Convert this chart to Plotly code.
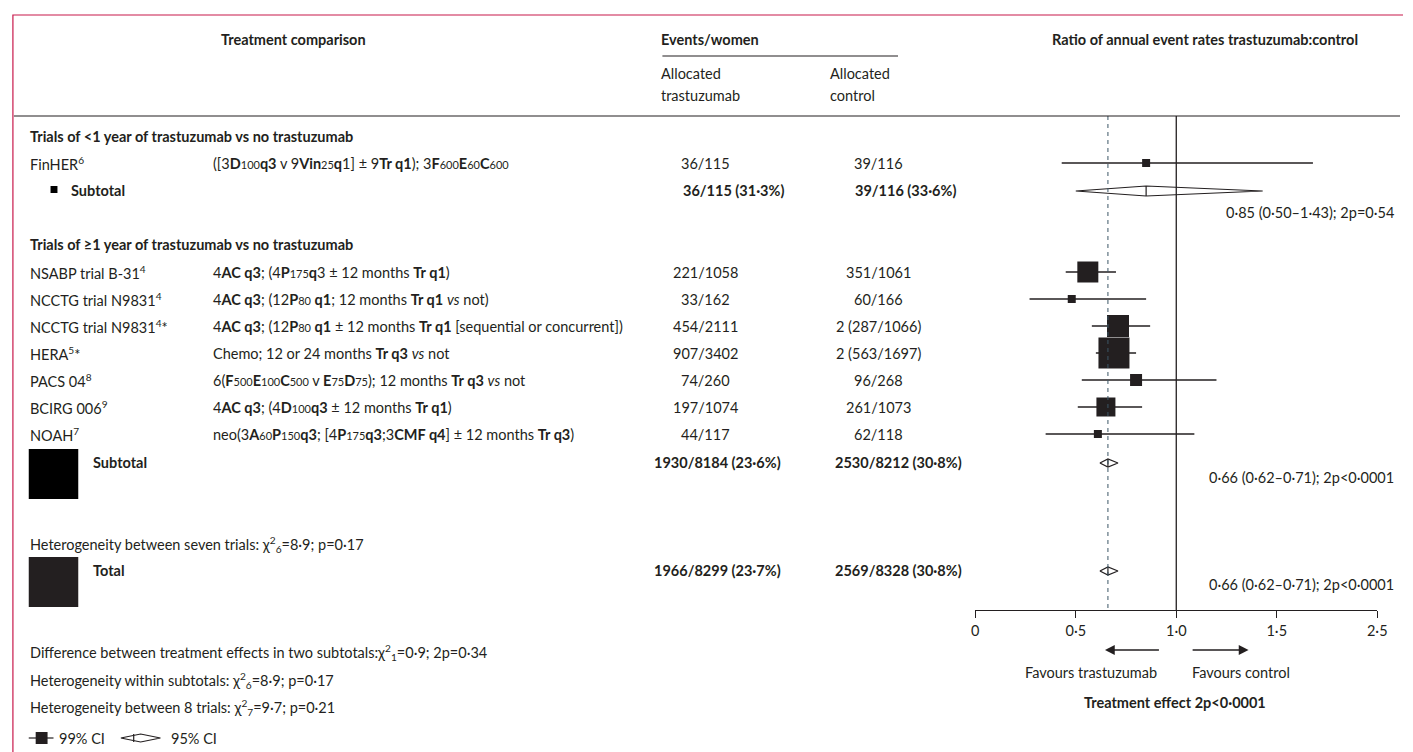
import plotly.graph_objects as go

W, H = 1413, 752
INK = "#231f20"
FONT = "Lato"
FS = 14.5

# trial data
trials = ["FinHER<sup>6</sup>", "NSABP trial B-31<sup>4</sup>", "NCCTG trial N9831<sup>4</sup>",
          "NCCTG trial N9831<sup>4</sup>*", "HERA<sup>5</sup>*", "PACS 04<sup>8</sup>",
          "BCIRG 006<sup>9</sup>", "NOAH<sup>7</sup>"]

def sm(t):
    return f"<span style='font-size:11px'>{t}</span>"

regimens = [
    f"([3<b>D</b>{sm('100')}<b>q3</b> v 9<b>Vin</b>{sm('25')}<b>q</b>1] ± 9<b>Tr q1</b>); 3<b>F</b>{sm('600')}<b>E</b>{sm('60')}<b>C</b>{sm('600')}",
    f"4<b>AC q3</b>; (4<b>P</b>{sm('175')}<b>q</b>3 ± 12 months <b>Tr q1</b>)",
    f"4<b>AC q3</b>; (12<b>P</b>{sm('80')} <b>q1</b>; 12 months <b>Tr q1</b> <i>vs</i> not)",
    f"4<b>AC q3</b>; (12<b>P</b>{sm('80')} <b>q1</b> ± 12 months <b>Tr q1</b> [sequential or concurrent])",
    "Chemo; 12 or 24 months <b>Tr q3</b> <i>vs</i> not",
    f"6(<b>F</b>{sm('500')}<b>E</b>{sm('100')}<b>C</b>{sm('500')} v <b>E</b>{sm('75')}<b>D</b>{sm('75')}); 12 months <b>Tr q3</b> <i>vs</i> not",
    f"4<b>AC q3</b>; (4<b>D</b>{sm('100')}<b>q3</b> ± 12 months <b>Tr q1</b>)",
    f"neo(3<b>A</b>{sm('60')}<b>P</b>{sm('150')}<b>q3</b>; [4<b>P</b>{sm('175')}<b>q3</b>;3<b>CMF q4</b>] ± 12 months <b>Tr q3</b>)",
]
events_tr = ["36/115", "221/1058", "33/162", "454/2111", "907/3402", "74/260", "197/1074", "44/117"]
events_ct = ["39/116", "351/1061", "60/166", "2 (287/1066)", "2 (563/1697)", "96/268", "261/1073", "62/118"]
ratio = [0.85, 0.56, 0.48, 0.71, 0.69, 0.80, 0.65, 0.61]
ci_lo = [0.43, 0.45, 0.27, 0.58, 0.60, 0.53, 0.51, 0.35]
ci_hi = [1.68, 0.70, 0.85, 0.87, 0.80, 1.20, 0.83, 1.09]
box_px = [8, 21, 8, 22, 31, 12, 19, 8]

# subtotals / total
sum_labels = ["Subtotal", "Subtotal", "Total"]
sum_tr = ["36/115 (31·3%)", "1930/8184 (23·6%)", "1966/8299 (23·7%)"]
sum_ct = ["39/116 (33·6%)", "2530/8212 (30·8%)", "2569/8328 (30·8%)"]
sum_est = [0.85, 0.66, 0.66]
sum_lo = [0.50, 0.62, 0.62]
sum_hi = [1.43, 0.71, 0.71]
sum_text = ["0·85 (0·50–1·43); 2p=0·54", "0·66 (0·62–0·71); 2p<0·0001", "0·66 (0·62–0·71); 2p<0·0001"]
overall_ratio = 0.66

tick_vals = [0, 0.5, 1.0, 1.5, 2.0]
tick_text = ["0", "0·5", "1·0", "1·5", "2·5"]

# layout rows (pixel y)
trial_y = [163, 272, 299, 326, 353, 380, 407, 434]
sum_y = [191, 463, 571]
AX_Y = 610
TOP_Y = 116

fig = go.Figure()

# CI lines
lx, ly = [], []
for lo, hi, y in zip(ci_lo, ci_hi, trial_y):
    lx += [lo, hi, None]
    ly += [y, y, None]
fig.add_trace(go.Scatter(x=lx, y=ly, mode="lines", line=dict(color=INK, width=1.3),
                         hoverinfo="skip", showlegend=False))
fig.add_trace(go.Scatter(x=ratio, y=trial_y, mode="markers", opacity=1,
                         marker=dict(symbol="square", size=box_px, color=INK, opacity=1, line=dict(width=0)),
                         hoverinfo="skip", showlegend=False))

# diamonds
halfs = [5, 4, 4]
for est, lo, hi, y, h in zip(sum_est, sum_lo, sum_hi, sum_y, halfs):
    fig.add_trace(go.Scatter(x=[lo, est, hi, est, lo], y=[y, y - h, y, y + h, y],
                             mode="lines", fill="toself", fillcolor="white",
                             line=dict(color=INK, width=1.2), hoverinfo="skip", showlegend=False))
    fig.add_trace(go.Scatter(x=[est, est], y=[y - h, y + h], mode="lines",
                             line=dict(color=INK, width=1.2), hoverinfo="skip", showlegend=False))

# reference lines
fig.add_shape(type="line", xref="x", yref="y", x0=1, x1=1, y0=TOP_Y, y1=AX_Y,
              line=dict(color=INK, width=1.3))
fig.add_shape(type="line", xref="x", yref="y", x0=overall_ratio, x1=overall_ratio, y0=TOP_Y, y1=AX_Y,
              line=dict(color="#3b5566", width=1, dash="4px,4px"))


def txt(x, y, s, anchor="left", size=FS, bold=False, color=INK):
    fig.add_annotation(x=x, y=y, xref="x2", yref="y", text=f"<b>{s}</b>" if bold else s,
                       showarrow=False, xanchor=anchor, yanchor="middle", borderpad=0,
                       font=dict(family=FONT, size=size, color=color))


def box(x0, y0, x1, y1, color):
    fig.add_shape(type="rect", xref="x2", yref="y", x0=x0, x1=x1, y0=y0, y1=y1,
                  fillcolor=color, line=dict(width=0))


# header
txt(292, 39, "Treatment comparison", "center", bold=True)
txt(663, 39, "Events/women", bold=True)
txt(1213, 39, "Ratio of annual event rates trastuzumab:control", "center", bold=True)
txt(663, 73, "Allocated")
txt(663, 95, "trastuzumab")
txt(833, 73, "Allocated")
txt(833, 95, "control")
fig.add_shape(type="line", xref="x2", yref="y", x0=665, x1=903, y0=56, y1=56,
              line=dict(color=INK, width=1.2))
fig.add_shape(type="line", xref="x2", yref="y", x0=10, x1=1410, y0=TOP_Y, y1=TOP_Y,
              line=dict(color=INK, width=1.2))
fig.add_shape(type="rect", xref="x2", yref="y", x0=9, x1=1430, y0=15, y1=800,
              line=dict(color="#c8194b", width=1.2))

txt(25, 136, "Trials of <1 year of trastuzumab vs no trastuzumab", bold=True)
txt(25, 244, "Trials of ≥1 year of trastuzumab vs no trastuzumab", bold=True)

for name, reg, et, ec, y in zip(trials, regimens, events_tr, events_ct, trial_y):
    txt(25, y, name)
    txt(210, y, reg)
    txt(709, y, et, "center")
    txt(883, y, ec, "center")

# subtotal rows
sum_lbl_y = [190, 462, 570]
sum_x_tr = [685, 655, 655]
sum_x_ct = [858, 838, 838]
sum_lbl_x = [67, 89, 89]
stat_y = [212, 477, 584]
for lab, st, sc, s, y, xt, xc, xl, sy in zip(sum_labels, sum_tr, sum_ct, sum_text, sum_lbl_y,
                                             sum_x_tr, sum_x_ct, sum_lbl_x, stat_y):
    txt(xl, y, lab, bold=True)
    txt(xt, y, st, bold=True)
    txt(xc, y, sc, bold=True)
    txt(1405, sy, s, "right")

# subtotal squares
box(47, 186, 54, 193, "#000000")
box(25, 449, 75, 499, "#000000")
box(25, 557, 75, 607, INK)

txt(25, 544, "Heterogeneity between seven trials: χ<sup>2</sup><sub>6</sub>=8·9; p=0·17")
txt(25, 652, "Difference between treatment effects in two subtotals:χ<sup>2</sup><sub>1</sub>=0·9; 2p=0·34")
txt(25, 680, "Heterogeneity within subtotals: χ<sup>2</sup><sub>6</sub>=8·9; p=0·17")
txt(25, 707, "Heterogeneity between 8 trials: χ<sup>2</sup><sub>7</sub>=9·7; p=0·21")

# legend
fig.add_trace(go.Scatter(x=[25, 50, None, 118, 138, 158, 138, 118, None, 131, 131],
                         y=[738, 738, None, 738, 734, 738, 742, 738, None, 734, 742],
                         xaxis="x2", mode="lines", line=dict(color=INK, width=1.2),
                         hoverinfo="skip", showlegend=False))
box(32, 732, 44, 744, INK)
txt(55, 738, "99% CI")
txt(168, 738, "95% CI")

# favours arrows
for tip, tail in [(1112, 1168), (1257, 1199)]:
    fig.add_annotation(x=tip, y=650, ax=tail, ay=650, xref="x2", yref="y", axref="x2", ayref="y",
                       showarrow=True, arrowhead=2, arrowsize=1.4, arrowwidth=1.4, arrowcolor=INK, text="")
txt(1098, 672, "Favours trastuzumab", "center")
txt(1199, 672, "Favours control")
txt(1183, 702, "Treatment effect 2p<0·0001", "center", bold=True)

fig.update_layout(
    width=W, height=H, margin=dict(l=0, r=0, t=0, b=0),
    paper_bgcolor="white", plot_bgcolor="rgba(0,0,0,0)", hovermode=False,
    xaxis=dict(domain=[981 / W, 1387 / W], range=[0, 2], anchor="free", position=1 - AX_Y / H,
               tickvals=tick_vals, ticktext=tick_text, ticks="outside", ticklen=7, tickcolor=INK,
               showline=True, linecolor=INK, linewidth=1.3, showgrid=False, zeroline=False,
               tickfont=dict(family=FONT, size=FS, color=INK)),
    xaxis2=dict(domain=[0, 1], range=[0, W], visible=False, anchor="y"),
    yaxis=dict(domain=[0, 1], range=[H, 0], visible=False),
)

fig.write_html("out.html", config={"displayModeBar": False},
               post_script="document.body.style.margin='0';document.body.style.overflow='hidden';")
